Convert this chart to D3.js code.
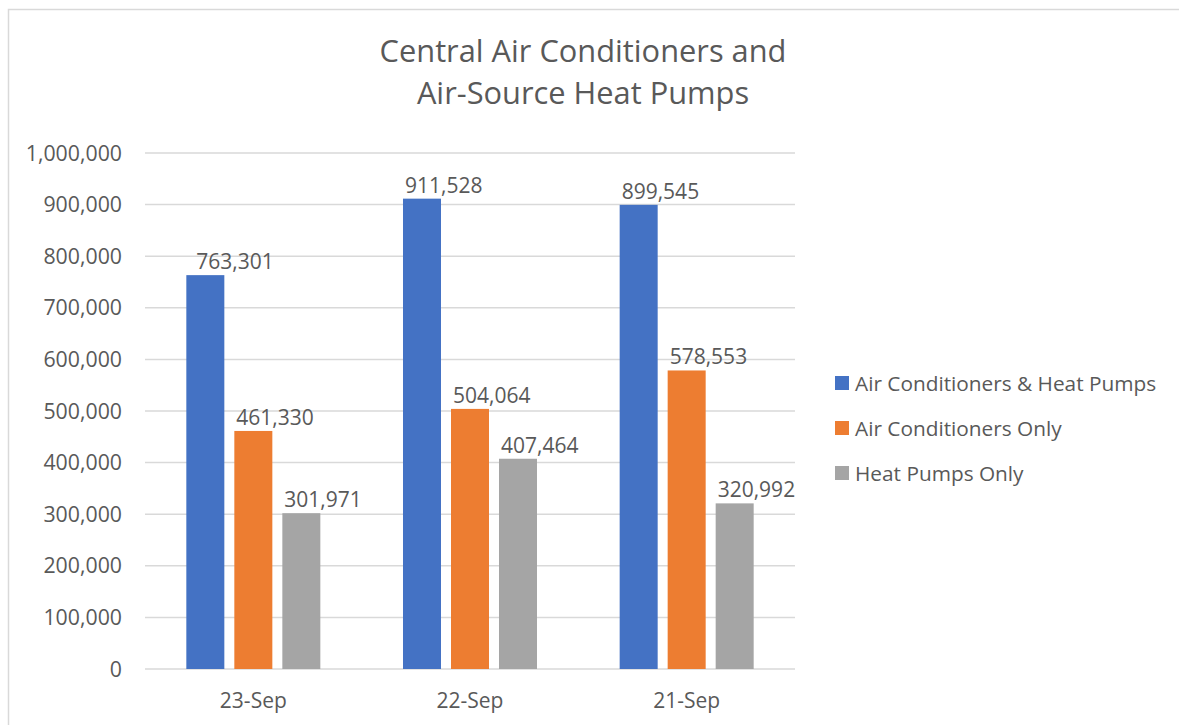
<!DOCTYPE html>
<html lang="en">
	<head>
		<meta charset="utf-8">
		<title>Central Air Conditioners and Air-Source Heat Pumps</title>
		<script src="https://cdnjs.cloudflare.com/ajax/libs/d3/7.8.5/d3.min.js"></script>
		<style type="text/css">
			body { margin: 0; background: #fff; }
			text { font-family: "Open Sans", sans-serif; fill: #595959; }
		</style>
	</head>
	<body>
		<script type="text/javascript">

			//Data
			var categories = ["23-Sep", "22-Sep", "21-Sep"];
			var seriesNames = ["Air Conditioners & Heat Pumps", "Air Conditioners Only", "Heat Pumps Only"];
			var bothValues = [763301, 911528, 899545];
			var acOnlyValues = [461330, 504064, 578553];
			var hpOnlyValues = [301971, 407464, 320992];
			var yTicks = [0, 100000, 200000, 300000, 400000, 500000, 600000, 700000, 800000, 900000, 1000000];
			var titleLines = ["Central Air Conditioners and", "Air-Source Heat Pumps"];

			var seriesValues = [bothValues, acOnlyValues, hpOnlyValues];
			var colours = ["#4472C4", "#ED7D31", "#A5A5A5"];

			//Width and height
			var w = 1179;
			var h = 725;
			var plot = { left: 145, right: 795, top: 153, bottom: 669 };

			//Create SVG element
			var svg = d3.select("body")
						.append("svg")
						.attr("width", w)
						.attr("height", h);

			//Chart border
			svg.append("rect")
				.attr("x", 8.5)
				.attr("y", 9.5)
				.attr("width", 1200)
				.attr("height", 800)
				.style("fill", "none")
				.style("stroke", "#d9d9d9")
				.style("stroke-width", 1.5);

			//Scales
			var x0 = d3.scaleBand()
				.domain(categories)
				.range([plot.left, plot.right])
				.paddingInner(0.3815)
				.paddingOuter(0.3815 / 2);

			var x1 = d3.scaleBand()
				.domain(seriesNames)
				.range([0, x0.bandwidth()])
				.paddingInner(0.2083);

			var y = d3.scaleLinear()
				.domain([0, 1000000])
				.range([plot.bottom, plot.top]);

			var fmt = d3.format(",");

			//Gridlines
			svg.append("g")
				.selectAll("line")
				.data(yTicks)
				.enter()
				.append("line")
				.attr("x1", plot.left)
				.attr("x2", plot.right)
				.attr("y1", function(d) { return y(d); })
				.attr("y2", function(d) { return y(d); })
				.style("stroke", "#d9d9d9")
				.style("stroke-width", 1.5);

			//Y axis labels
			svg.append("g")
				.selectAll("text")
				.data(yTicks)
				.enter()
				.append("text")
				.attr("x", 122)
				.attr("y", function(d) { return y(d); })
				.attr("dy", "0.36em")
				.attr("text-anchor", "end")
				.style("font-size", "21.3px")
				.text(function(d) { return fmt(d); });

			//X axis labels
			svg.append("g")
				.selectAll("text")
				.data(categories)
				.enter()
				.append("text")
				.attr("x", function(d) { return x0(d) + x0.bandwidth() / 2; })
				.attr("y", 708)
				.attr("text-anchor", "middle")
				.style("font-size", "21px")
				.text(function(d) { return d; });

			//Build rows for the bars
			var rows = [];
			categories.forEach(function(c, i) {
				seriesNames.forEach(function(s, j) {
					rows.push({ cat: c, series: s, idx: j, value: seriesValues[j][i] });
				});
			});

			//Bars
			svg.append("g")
				.selectAll("rect")
				.data(rows)
				.enter()
				.append("rect")
				.attr("x", function(d) { return x0(d.cat) + x1(d.series); })
				.attr("y", function(d) { return y(d.value); })
				.attr("width", x1.bandwidth())
				.attr("height", function(d) { return y(0) - y(d.value); })
				.style("fill", function(d) { return colours[d.idx]; });

			//Value labels (first one was nudged right in the original)
			svg.append("g")
				.selectAll("text")
				.data(rows)
				.enter()
				.append("text")
				.attr("x", function(d) {
					var nudge = (d.cat == "23-Sep" && d.idx == 0) ? 10 : 2;
					return x0(d.cat) + x1(d.series) + nudge;
				})
				.attr("y", function(d) { return y(d.value) - 6; })
				.style("font-size", "21px")
				.text(function(d) { return fmt(d.value); });

			//Title
			svg.append("g")
				.selectAll("text")
				.data(titleLines)
				.enter()
				.append("text")
				.attr("x", 583)
				.attr("y", function(d, i) { return 62 + i * 42; })
				.attr("text-anchor", "middle")
				.style("font-size", "30.8px")
				.text(function(d) { return d; });

			//Legend
			var legend = svg.append("g")
				.selectAll("g")
				.data(seriesNames)
				.enter()
				.append("g")
				.attr("transform", function(d, i) { return "translate(835," + (383 + i * 45) + ")"; });

			legend.append("rect")
				.attr("x", 0)
				.attr("y", -7)
				.attr("width", 14)
				.attr("height", 14)
				.style("fill", function(d, i) { return colours[i]; });

			legend.append("text")
				.attr("x", 20)
				.attr("dy", "0.36em")
				.style("font-size", "20.8px")
				.text(function(d) { return d; });
		</script>
	</body>
</html>
